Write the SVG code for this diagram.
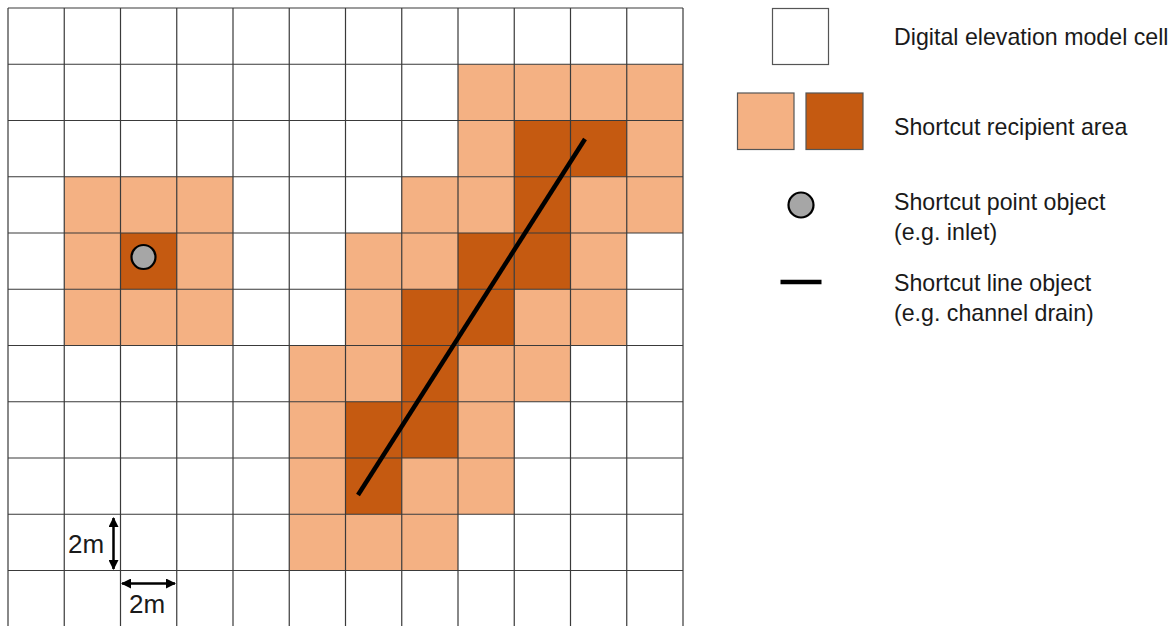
<svg xmlns="http://www.w3.org/2000/svg" width="1176" height="626" viewBox="0 0 1176 626">
<style>
.lt{fill:#F4B183}
.dk{fill:#C55A11}
.grid{stroke:#3a3a3a;stroke-width:1.2;fill:none}
.txt{font-family:"Liberation Sans",Arial,sans-serif;font-size:23.2px;fill:#1a1a1a}
.sc{font-family:"Liberation Sans",Arial,sans-serif;font-size:26px;fill:#1a1a1a}
.arr{stroke:#000;stroke-width:2.5;fill:none}
</style>
<defs>
<marker id="ah" viewBox="0 0 10 10" refX="9" refY="5" markerWidth="4" markerHeight="4" orient="auto-start-reverse" markerUnits="strokeWidth">
<path d="M0,0 L10,5 L0,10 z" fill="#000"/>
</marker>
</defs>
<rect width="1176" height="626" fill="#fff"/>
<g id="recipient-cells" transform="translate(8,8) scale(56.25)">
<g class="lt">
<rect x="8" y="1" width="1" height="1"/><rect x="9" y="1" width="1" height="1"/><rect x="10" y="1" width="1" height="1"/><rect x="11" y="1" width="1" height="1"/>
<rect x="8" y="2" width="1" height="1"/><rect x="11" y="2" width="1" height="1"/>
<rect x="1" y="3" width="1" height="1"/><rect x="2" y="3" width="1" height="1"/><rect x="3" y="3" width="1" height="1"/><rect x="7" y="3" width="1" height="1"/><rect x="8" y="3" width="1" height="1"/><rect x="10" y="3" width="1" height="1"/><rect x="11" y="3" width="1" height="1"/>
<rect x="1" y="4" width="1" height="1"/><rect x="3" y="4" width="1" height="1"/><rect x="6" y="4" width="1" height="1"/><rect x="7" y="4" width="1" height="1"/><rect x="10" y="4" width="1" height="1"/>
<rect x="1" y="5" width="1" height="1"/><rect x="2" y="5" width="1" height="1"/><rect x="3" y="5" width="1" height="1"/><rect x="6" y="5" width="1" height="1"/><rect x="9" y="5" width="1" height="1"/><rect x="10" y="5" width="1" height="1"/>
<rect x="5" y="6" width="1" height="1"/><rect x="6" y="6" width="1" height="1"/><rect x="8" y="6" width="1" height="1"/><rect x="9" y="6" width="1" height="1"/>
<rect x="5" y="7" width="1" height="1"/><rect x="8" y="7" width="1" height="1"/>
<rect x="5" y="8" width="1" height="1"/><rect x="7" y="8" width="1" height="1"/><rect x="8" y="8" width="1" height="1"/>
<rect x="5" y="9" width="1" height="1"/><rect x="6" y="9" width="1" height="1"/><rect x="7" y="9" width="1" height="1"/>
</g>
<g class="dk">
<rect x="9" y="2" width="1" height="1"/><rect x="10" y="2" width="1" height="1"/>
<rect x="9" y="3" width="1" height="1"/>
<rect x="2" y="4" width="1" height="1"/><rect x="8" y="4" width="1" height="1"/><rect x="9" y="4" width="1" height="1"/>
<rect x="7" y="5" width="1" height="1"/><rect x="8" y="5" width="1" height="1"/>
<rect x="7" y="6" width="1" height="1"/>
<rect x="6" y="7" width="1" height="1"/><rect x="7" y="7" width="1" height="1"/>
<rect x="6" y="8" width="1" height="1"/>
</g>
</g>
<g id="dem-grid" class="grid">
<path d="M8,8V626 M64.25,8V626 M120.5,8V626 M176.75,8V626 M233,8V626 M289.25,8V626 M345.5,8V626 M401.75,8V626 M458,8V626 M514.25,8V626 M570.5,8V626 M626.75,8V626 M683,8V626"/>
<path d="M8,8H683 M8,64.25H683 M8,120.5H683 M8,176.75H683 M8,233H683 M8,289.25H683 M8,345.5H683 M8,401.75H683 M8,458H683 M8,514.25H683 M8,570.5H683"/>
</g>
<g id="line-object">
<line x1="585" y1="139" x2="358" y2="495" stroke="#000" stroke-width="4.5"/>
</g>
<g id="point-object">
<circle cx="143.5" cy="257" r="12" fill="#A6A6A6" stroke="#000" stroke-width="2.2"/>
</g>
<g id="scale-bars">
<line class="arr" x1="113.5" y1="518" x2="113.5" y2="569" marker-start="url(#ah)" marker-end="url(#ah)"/>
<text class="sc" x="68" y="553">2m</text>
<line class="arr" x1="122" y1="583.5" x2="175" y2="583.5" marker-start="url(#ah)" marker-end="url(#ah)"/>
<text class="sc" x="129" y="613">2m</text>
</g>
<g id="legend-dem">
<rect x="772.5" y="8.5" width="56" height="56" fill="#fff" stroke="#555" stroke-width="1.2"/>
<text class="txt" x="894" y="45">Digital elevation model cell</text>
</g>
<g id="legend-recipient">
<rect x="737.5" y="93" width="56.5" height="56.5" class="lt" stroke="#555" stroke-width="1.2"/>
<rect x="806" y="93" width="57" height="56.5" class="dk" stroke="#555" stroke-width="1.2"/>
<text class="txt" x="894" y="135">Shortcut recipient area</text>
</g>
<g id="legend-point">
<circle cx="801" cy="205" r="12.5" fill="#A6A6A6" stroke="#000" stroke-width="2.2"/>
<text class="txt" x="894" y="210">Shortcut point object</text>
<text class="txt" x="894" y="240">(e.g. inlet)</text>
</g>
<g id="legend-line">
<line x1="780.5" y1="282" x2="821.5" y2="282" stroke="#000" stroke-width="4.5"/>
<text class="txt" x="894" y="291">Shortcut line object</text>
<text class="txt" x="894" y="321">(e.g. channel drain)</text>
</g>
</svg>
